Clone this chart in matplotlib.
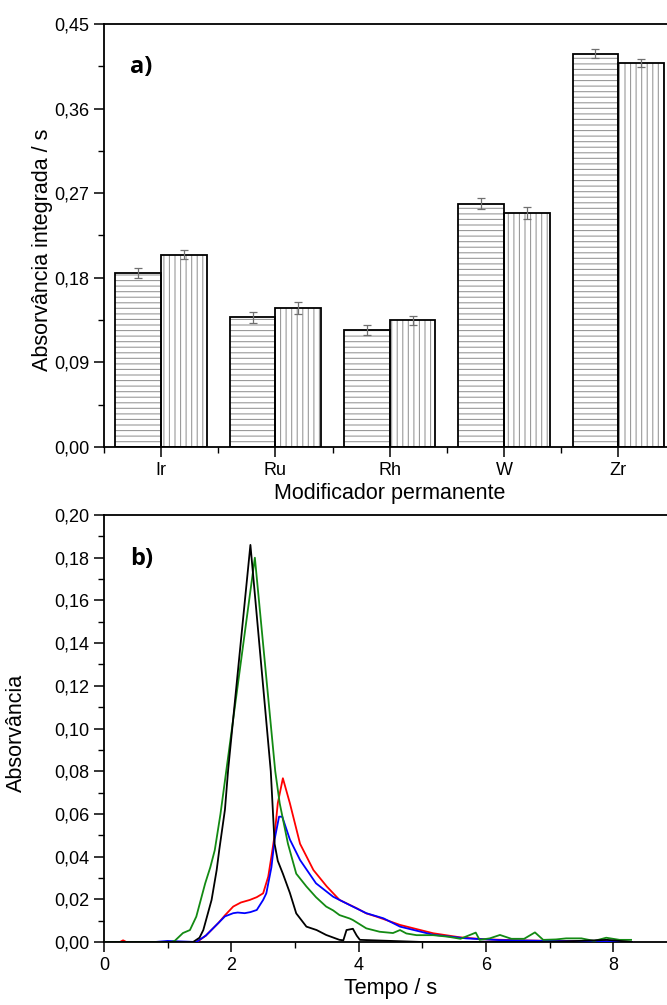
import matplotlib
matplotlib.use("Agg")
import matplotlib.pyplot as plt
from matplotlib.ticker import FuncFormatter, MultipleLocator, FixedLocator
import numpy as np

plt.rcParams['font.family'] = ['Liberation Sans', 'DejaVu Sans']
plt.rcParams['hatch.linewidth'] = 0.8

# ---------------- data: panel a ----------------
categories = ["Ir", "Ru", "Rh", "W", "Zr"]
series1 = [0.185, 0.138, 0.1245, 0.259, 0.4185]
series1_err = [0.005, 0.006, 0.0053, 0.006, 0.0045]
series2 = [0.2046, 0.1475, 0.1348, 0.2493, 0.4085]
series2_err = [0.005, 0.0064, 0.005, 0.0065, 0.0045]
yticks_a = [0.00, 0.09, 0.18, 0.27, 0.36, 0.45]

# ---------------- data: panel b ----------------
black_t = [0, 1.0, 1.4, 1.5, 1.56, 1.69, 1.77, 1.81, 1.9, 1.95, 2.30, 2.62, 2.68, 2.73, 2.81, 2.92,
           3.02, 3.18, 3.34, 3.49, 3.7, 3.76, 3.81, 3.91, 3.97, 4.02, 5.0, 6.0, 7.0, 7.9, 8.3]
black_v = [0, 0, 0, 0.002, 0.0056, 0.0197, 0.0337, 0.043, 0.062, 0.0806, 0.186, 0.08, 0.046, 0.038,
           0.032, 0.023, 0.0134, 0.0072, 0.0056, 0.0033, 0.001, 0.0008, 0.0056, 0.0062, 0.003, 0.001,
           0, 0, 0, 0.001, 0]

green_t = [0, 1.05, 1.11, 1.24, 1.35, 1.45, 1.59, 1.67, 1.74, 1.83, 1.92, 2.37, 2.69, 2.76, 2.89,
           3.02, 3.18, 3.33, 3.49, 3.6, 3.7, 3.86, 3.91, 4.12, 4.33, 4.54, 4.65, 4.75, 4.91, 5.17,
           5.4, 5.6, 5.84, 5.9, 6.06, 6.22, 6.4, 6.6, 6.77, 6.9, 7.1, 7.26, 7.5, 7.7, 7.89, 8.1, 8.28]
green_v = [0, 0, 0.0005, 0.0042, 0.0056, 0.0119, 0.0275, 0.035, 0.043, 0.06, 0.08, 0.180, 0.08,
           0.065, 0.046, 0.032, 0.026, 0.021, 0.0166, 0.0148, 0.0126, 0.011, 0.0103, 0.0064, 0.0048,
           0.0042, 0.0056, 0.004, 0.0032, 0.0032, 0.0025, 0.0015, 0.0044, 0.001, 0.0017, 0.0033,
           0.0015, 0.0015, 0.0045, 0.001, 0.0012, 0.0017, 0.0017, 0.0005, 0.002, 0.001, 0.001]

red_t = [0, 0.25, 0.3, 0.35, 1.4, 1.46, 1.6, 1.7, 1.8, 1.9, 2.03, 2.15, 2.29, 2.4, 2.5, 2.58, 2.63,
         2.68, 2.73, 2.81, 2.92, 3.08, 3.29, 3.5, 3.7, 3.97, 4.12, 4.28, 4.65, 5.17, 5.59, 5.96, 6.5,
         7.0, 7.5, 8.0, 8.3]
red_v = [0, 0, 0.0008, 0, 0, 0, 0.003, 0.006, 0.009, 0.0125, 0.0166, 0.0185, 0.0197, 0.021, 0.0228,
         0.0306, 0.04, 0.05, 0.065, 0.0767, 0.065, 0.046, 0.0337, 0.026, 0.0197, 0.0158, 0.0134,
         0.0119, 0.008, 0.0041, 0.0022, 0.0013, 0.0008, 0.0005, 0.0004, 0.0003, 0]

blue_t = [0, 0.8, 1.0, 1.45, 1.6, 1.7, 1.8, 1.9, 2.03, 2.1, 2.21, 2.3, 2.4, 2.5, 2.55, 2.63, 2.68,
          2.75, 2.8, 2.92, 3.08, 3.33, 3.6, 3.86, 4.12, 4.39, 4.65, 5.17, 5.69, 6.2, 7.0, 7.5, 8.0, 8.3]
blue_v = [0, 0, 0.0005, 0, 0.003, 0.006, 0.009, 0.012, 0.0135, 0.0138, 0.0135, 0.014, 0.015, 0.0197,
          0.0228, 0.035, 0.048, 0.0587, 0.0587, 0.048, 0.0384, 0.0275, 0.0212, 0.0173, 0.0135,
          0.0111, 0.0072, 0.0034, 0.0017, 0.0009, 0.0005, 0.0003, 0.0003, 0]

xticks_b = [0, 2, 4, 6, 8]

# ---------------- figure ----------------
W, H = 667, 1005
fig = plt.figure(figsize=(W / 100, H / 100), dpi=100)

def comma(v, pos=None):
    return f"{v:.2f}".replace(".", ",")

TICK_FS = 13
LABEL_FS = 15.5

# ---- panel a ----
ax1 = fig.add_axes([104 / W, (H - 447) / H, 571.5 / W, 423 / H])
x = np.arange(1, len(categories) + 1)
bw = 0.4
grey = "#9a9a9a"
ax1.bar(x - bw / 2, series1, bw, color="white", edgecolor=grey, hatch="---", linewidth=0, zorder=2)
ax1.bar(x - bw / 2, series1, bw, fill=False, edgecolor="black", linewidth=1.3, zorder=3)
ax1.bar(x + bw / 2, series2, bw, color="white", edgecolor=grey, hatch="|||", linewidth=0, zorder=2)
ax1.bar(x + bw / 2, series2, bw, fill=False, edgecolor="black", linewidth=1.3, zorder=3)
ax1.errorbar(x - bw / 2, series1, yerr=series1_err, fmt="none", ecolor="#707070",
             elinewidth=0.9, capsize=3, capthick=0.9, zorder=4)
ax1.errorbar(x + bw / 2, series2, yerr=series2_err, fmt="none", ecolor="#707070",
             elinewidth=0.9, capsize=3, capthick=0.9, zorder=4)

ax1.set_xlim(0.5, 5.5)
ax1.set_ylim(0, 0.45)
ax1.xaxis.set_major_locator(FixedLocator(x))
ax1.set_xticklabels(categories)
ax1.xaxis.set_minor_locator(FixedLocator(np.arange(0.5, 6.0, 1.0)))
ax1.set_yticks(yticks_a)
ax1.yaxis.set_minor_locator(MultipleLocator(0.045))
ax1.yaxis.set_major_formatter(FuncFormatter(comma))
ax1.set_xlabel("Modificador permanente", fontsize=LABEL_FS, labelpad=3)
ax1.set_ylabel("Absorvância integrada / s", fontsize=LABEL_FS)
ax1.yaxis.set_label_coords(-0.09, 0.466)
ax1.text(0.045, 0.898, "a)", transform=ax1.transAxes, fontsize=17, fontweight="bold",
         family=["Open Sans", "DejaVu Sans"], va="center", ha="left")

# ---- panel b ----
ax2 = fig.add_axes([104 / W, (H - 942) / H, 572.9 / W, 427 / H])
ax2.plot(red_t, red_v, color="#ff0000", lw=1.3, zorder=3)
ax2.plot(blue_t, blue_v, color="#0000ff", lw=1.3, zorder=4)
ax2.plot(green_t, green_v, color="#138a13", lw=1.3, zorder=5)
ax2.plot(black_t, black_v, color="black", lw=1.3, zorder=6)
ax2.set_xlim(0, 9)
ax2.set_ylim(0, 0.20)
ax2.set_xticks(xticks_b)
ax2.xaxis.set_minor_locator(MultipleLocator(1))
ax2.yaxis.set_major_locator(MultipleLocator(0.02))
ax2.yaxis.set_minor_locator(MultipleLocator(0.01))
ax2.yaxis.set_major_formatter(FuncFormatter(comma))
ax2.set_xlabel("Tempo / s", fontsize=LABEL_FS, labelpad=3)
ax2.set_ylabel("Absorvância", fontsize=LABEL_FS)
ax2.yaxis.set_label_coords(-0.134, 0.49)
ax2.text(0.045, 0.897, "b)", transform=ax2.transAxes, fontsize=17, fontweight="bold",
         family=["Open Sans", "DejaVu Sans"], va="center", ha="left")

for ax in (ax1, ax2):
    for s in ax.spines.values():
        s.set_linewidth(1.3)
    ax.tick_params(which="major", direction="out", length=7, width=1.1, labelsize=TICK_FS,
                   top=False, right=False)
    ax.tick_params(which="minor", direction="out", length=4, width=1.0, top=False, right=False)

fig.savefig("out.png", dpi=100)
